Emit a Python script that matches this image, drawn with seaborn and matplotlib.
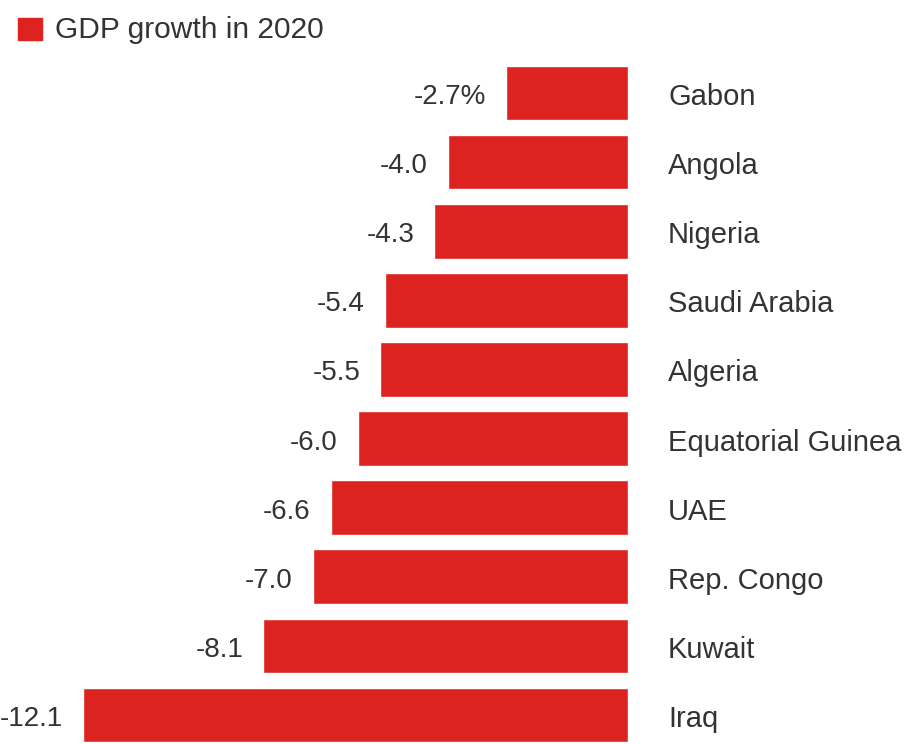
import matplotlib
matplotlib.use("Agg")
import matplotlib.pyplot as plt
from matplotlib.patches import Rectangle
import seaborn as sns
import pandas as pd

countries = ["Gabon", "Angola", "Nigeria", "Saudi Arabia", "Algeria",
             "Equatorial Guinea", "UAE", "Rep. Congo", "Kuwait", "Iraq"]
growth = [-2.7, -4.0, -4.3, -5.4, -5.5, -6.0, -6.6, -7.0, -8.1, -12.1]
legend_label = "GDP growth in 2020"

RED = "#dc231f"
TXT = "#333333"

sns.set_theme(style="white")
plt.rcParams["font.family"] = ["Liberation Sans", "DejaVu Sans"]

df = pd.DataFrame({"country": countries, "growth": growth})

W, H = 905, 744
fig = plt.figure(figsize=(W / 100, H / 100), dpi=100)
zero_px = 628
scale = (628 - 83) / 12.1  # px per unit
pitch = (715 - 93) / 9
top_px = 93 - 0.5 * pitch
ax = fig.add_axes([0, 0, zero_px / W, (H - top_px) / H])

sns.barplot(data=df, x="growth", y="country", orient="h", color=RED,
            saturation=1, width=0.79, ax=ax)

ax.set_xlim(-zero_px / scale, 0)
ax.set_ylim((H - 93) / pitch, -0.5)
ax.axis("off")

dy = 4 / pitch
for i, (c, v) in enumerate(zip(countries, growth)):
    lab = f"{v:.1f}%" if i == 0 else f"{v:.1f}"
    ax.text(v - 20 / scale, i + dy, lab, ha="right", va="center",
            fontsize=20, color=TXT, clip_on=False)
    ax.text(40 / scale, i + dy, c, ha="left", va="center",
            fontsize=21, color=TXT, clip_on=False)

fig.add_artist(Rectangle((18 / W, 1 - 40 / H), 24 / W, 22 / H,
                         transform=fig.transFigure, color=RED))
fig.text(55 / W, 1 - 30 / H, legend_label, ha="left", va="center",
         fontsize=21.5, color=TXT)

fig.savefig("out.png", dpi=100, facecolor="white")
